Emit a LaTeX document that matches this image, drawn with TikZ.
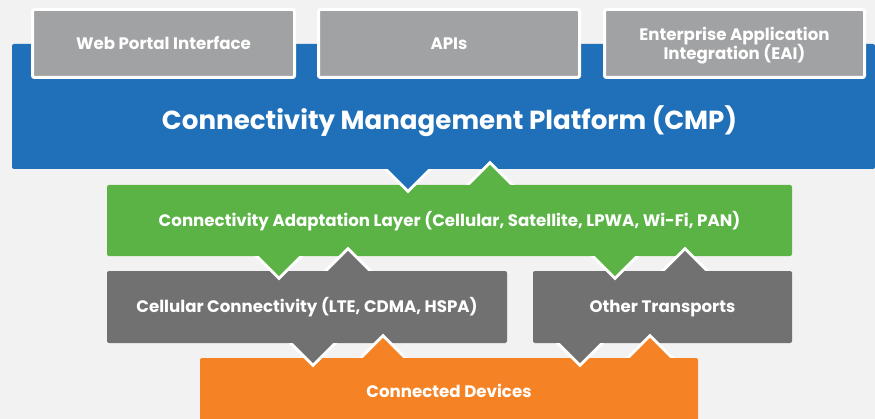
\documentclass[tikz,border=0pt]{standalone}
\usepackage{fontspec}
\setmainfont{Poppins}
\definecolor{bggray}{HTML}{F2F2F2}
\definecolor{cmpblue}{HTML}{1F70B8}
\definecolor{apigray}{HTML}{A1A2A4}
\definecolor{calgreen}{HTML}{5BB346}
\definecolor{netgray}{HTML}{717171}
\definecolor{devorange}{HTML}{F58325}
% notch below a box: #1 anchor, #2 x offset, #3 colour
\newcommand{\notchdown}[3]{%
  \begin{scope}
    \clip ([shift={(#2-40,0)}]#1) rectangle ([shift={(#2+40,40)}]#1);
    \draw[notchline] ([shift={(#2-25,-5)}]#1) -- ([shift={(#2,20)}]#1) -- ([shift={(#2+25,-5)}]#1);
    \fill[#3] ([shift={(#2-25,-5)}]#1) -- ([shift={(#2,20)}]#1) -- ([shift={(#2+25,-5)}]#1) -- cycle;
  \end{scope}}
% notch above a box
\newcommand{\notchup}[3]{%
  \begin{scope}
    \clip ([shift={(#2-40,0)}]#1) rectangle ([shift={(#2+40,-40)}]#1);
    \draw[notchline] ([shift={(#2-25,5)}]#1) -- ([shift={(#2,-20)}]#1) -- ([shift={(#2+25,5)}]#1);
    \fill[#3] ([shift={(#2-25,5)}]#1) -- ([shift={(#2,-20)}]#1) -- ([shift={(#2+25,5)}]#1) -- cycle;
  \end{scope}}
\begin{document}
\begin{tikzpicture}[x=0.3mm, y=-0.3mm, line join=miter,
  layer/.style={fill=#1, text=white, inner sep=0pt, align=center, rounded corners=0.6mm,
    font=\bfseries\fontsize{14.2}{17}\selectfont, text height=12pt, text depth=2pt},
  topbox/.style={layer=apigray, draw=white, line width=0.9mm, minimum width=#1*0.3mm, minimum height=68*0.3mm},
  notchline/.style={draw=white, line width=1.8mm}]
  \useasboundingbox[fill=bggray] (0,0) rectangle (875,419);
  % layers
  \node[layer=cmpblue, minimum width=863*0.3mm, minimum height=125*0.3mm,
    font=\bfseries\fontsize{22.3}{26}\selectfont, text height=44pt, text depth=4pt] (cmp) at (443.5,106.5)
    {\hspace*{3.6mm}Connectivity Management Platform (CMP)};
  \node[topbox=262] (web) at (163.5,43.5) {Web Portal Interface};
  \node[topbox=261] (api) at (449,43.5) {APIs};
  \node[topbox=260, text height=, text depth=] (eai) at (734.5,43.5)
    {\rule{0pt}{15pt}Enterprise Application\\Integration (EAI)};
  \node[layer=calgreen, minimum width=685*0.3mm, minimum height=71*0.3mm] (cal) at (449.5,220.5)
    {Connectivity Adaptation Layer (Cellular, Satellite, LPWA, Wi-Fi, PAN)};
  \node[layer=netgray, minimum width=400*0.3mm, minimum height=72*0.3mm] (cell) at (307,307)
    {Cellular Connectivity (LTE, CDMA, HSPA)};
  \node[layer=netgray, minimum width=259*0.3mm, minimum height=72*0.3mm] (other) at (662.5,307)
    {Other Transports};
  \node[layer=devorange, minimum width=498*0.3mm, minimum height=68*0.3mm] (dev) at (449,392)
    {Connected Devices};
  % notches
  \notchdown{cmp.south}{-35.5}{cmpblue}
  \notchup{cal.north}{40.5}{calgreen}
  \notchdown{cal.south}{-170.5}{calgreen}
  \notchdown{cal.south}{165.5}{calgreen}
  \notchup{cell.north}{41}{netgray}
  \notchup{other.north}{22.5}{netgray}
  \notchdown{cell.south}{6}{netgray}
  \notchdown{other.south}{-82.5}{netgray}
  \notchup{dev.north}{-66}{devorange}
  \notchup{dev.north}{201}{devorange}
\end{tikzpicture}
\end{document}
